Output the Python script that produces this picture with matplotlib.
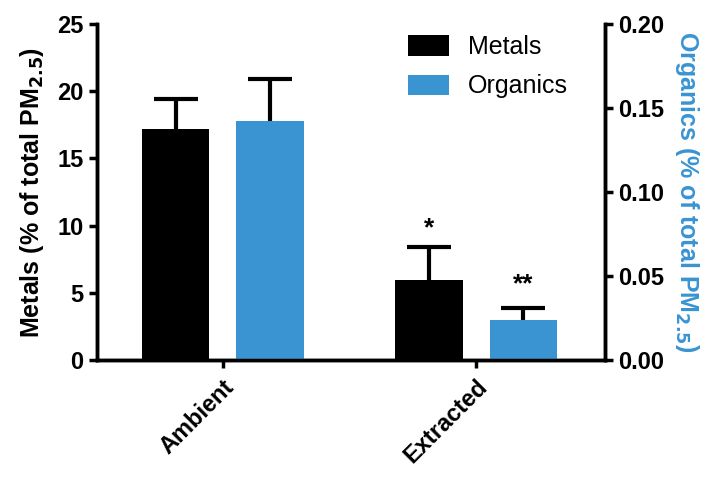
import numpy as np
import matplotlib.pyplot as plt

plt.rcParams['font.family'] = ['Liberation Sans', 'DejaVu Sans']

groups = ['Ambient', 'Extracted']
metals = [17.2, 5.95]
metals_err = [2.2, 2.45]
organics = [0.142, 0.0238]
organics_err = [0.025, 0.0072]
stars = ['*', '**']

blue = '#3A94D2'
x = np.arange(len(groups))
w = 0.265
off = 0.186

fig = plt.figure(figsize=(7.12, 4.83), dpi=100)
ax = fig.add_axes([0.136, 0.2547, 0.714, 0.6956])
ax2 = ax.twinx()

ekw = dict(elinewidth=3, capsize=16, capthick=3, ecolor='black')
b1 = ax.bar(x - off, metals, w, color='black', label='Metals', zorder=2)
eb1 = ax.errorbar(x - off, metals, yerr=[np.zeros(2), metals_err], fmt='none', zorder=1, **ekw)
b2 = ax2.bar(x + off, organics, w, color=blue, label='Organics', zorder=2)
eb2 = ax2.errorbar(x + off, organics, yerr=[np.zeros(2), organics_err], fmt='none', zorder=1, **ekw)
# only the upper cap
eb1[1][0].set_visible(False)
eb2[1][0].set_visible(False)

# significance marks
ax.annotate(stars[0], (x[1] - off, metals[1] + metals_err[1]), xytext=(0, 5),
            textcoords='offset points', ha='center', va='bottom', fontsize=19, fontweight='bold')
ax2.annotate(stars[1], (x[1] + off, organics[1] + organics_err[1]), xytext=(0, 8),
             textcoords='offset points', ha='center', va='bottom', fontsize=19, fontweight='bold')

ax.set_xlim(-0.498, 1.51)
ax.set_ylim(0, 25)
ax2.set_ylim(0, 0.20)
ax.set_yticks([0, 5, 10, 15, 20, 25])
ax2.set_yticks([0, 0.05, 0.10, 0.15, 0.20])
ax2.set_yticklabels(['0.00', '0.05', '0.10', '0.15', '0.20'])
ax.set_xticks(x)
ax.set_xticklabels(groups, rotation=45, ha='right', rotation_mode='anchor', fontsize=17, fontweight='bold')

for a in (ax, ax2):
    a.spines['top'].set_visible(False)
    for s in a.spines.values():
        s.set_linewidth(2.5)
    a.tick_params(width=2.5, length=6, labelsize=17)
    for lab in a.get_yticklabels():
        lab.set_fontweight('bold')
ax.tick_params(axis='x', length=6, pad=5)

ax.set_ylabel('Metals (% of total PM$_{\\mathbf{2.5}}$)', fontsize=18, fontweight='bold', labelpad=8)
ax2.set_ylabel('Organics (% of total PM$_{\\mathbf{2.5}}$)', fontsize=18, fontweight='bold',
               color=blue, rotation=270, labelpad=26)

fig.legend(handles=[b1, b2], loc='upper left', bbox_to_anchor=(408 / 712, 1 - 35 / 483), frameon=False,
           borderpad=0, borderaxespad=0, fontsize=18, handlelength=1.64, handleheight=0.9,
           handletextpad=0.75, labelspacing=0.62)

fig.savefig('out.png', dpi=100)
